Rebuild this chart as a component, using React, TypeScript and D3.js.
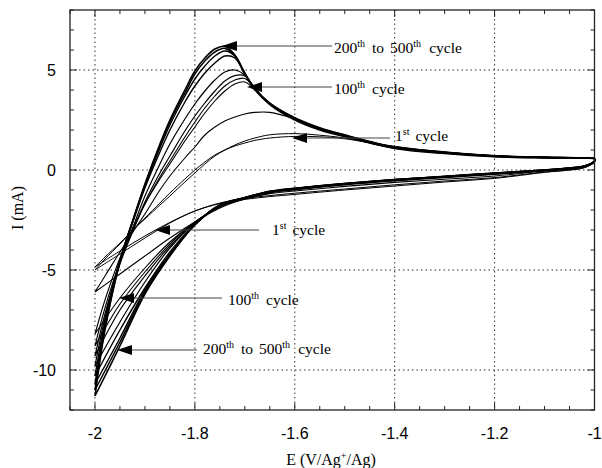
import React from "react";
import * as d3 from "d3";

// Potential grids (V vs Ag+/Ag)
const eUp = [-2, -1.98, -1.95, -1.92, -1.9, -1.87, -1.85, -1.82, -1.8, -1.78, -1.76, -1.74, -1.72, -1.7, -1.68, -1.65, -1.6, -1.55, -1.5, -1.4, -1.3, -1.2, -1.1, -1.03, -1.0];
const eDown = [-1.0, -1.02, -1.05, -1.1, -1.2, -1.3, -1.4, -1.5, -1.6, -1.65, -1.7, -1.75, -1.8, -1.85, -1.9, -1.95, -2.0];

// Current (mA) per cycle, anodic (up) and cathodic (down) sweeps
const c1Up = [-4.85, -4.35, -3.65, -2.9, -2.45, -1.75, -1.3, -0.6, -0.15, 0.3, 0.7, 1.0, 1.25, 1.45, 1.6, 1.76, 1.82, 1.74, 1.6, 1.18, 0.9, 0.72, 0.64, 0.6, 0.56];
const c1Down = [0.4, 0.12, 0.0, -0.12, -0.42, -0.6, -0.8, -1.0, -1.22, -1.33, -1.47, -1.68, -2.05, -2.62, -3.3, -4.05, -4.85];
const c2Up = [-5.0, -4.45, -3.7, -2.9, -2.4, -1.65, -1.15, -0.45, 0.0, 0.4, 0.75, 1.0, 1.2, 1.35, 1.48, 1.6, 1.68, 1.66, 1.56, 1.16, 0.89, 0.71, 0.63, 0.6, 0.56];
const c2Down = [0.4, 0.12, 0.0, -0.1, -0.38, -0.55, -0.74, -0.95, -1.16, -1.28, -1.42, -1.65, -2.05, -2.65, -3.4, -4.2, -5.0];
const c3Up = [-6.1, -5.3, -4.1, -2.95, -2.2, -1.0, -0.3, 0.6, 1.15, 1.75, 2.15, 2.45, 2.65, 2.8, 2.88, 2.88, 2.55, 2.05, 1.68, 1.1, 0.86, 0.69, 0.62, 0.6, 0.56];
const c3Down = [0.42, 0.15, 0.05, -0.05, -0.3, -0.46, -0.62, -0.82, -1.05, -1.18, -1.45, -1.9, -2.6, -3.4, -4.3, -5.2, -6.1];
const c4Up = [-8.2, -6.5, -4.4, -2.7, -1.7, -0.45, 0.3, 1.45, 2.15, 2.85, 3.45, 3.95, 4.3, 4.4, 4.0, 3.3, 2.55, 2.05, 1.68, 1.1, 0.85, 0.68, 0.62, 0.6, 0.56];
const c4Down = [0.45, 0.18, 0.07, -0.03, -0.22, -0.38, -0.55, -0.75, -1.0, -1.15, -1.45, -1.85, -2.6, -3.6, -4.9, -6.4, -8.2];
const c5Up = [-8.8, -6.9, -4.6, -2.8, -1.7, -0.35, 0.45, 1.65, 2.4, 3.1, 3.7, 4.2, 4.5, 4.58, 4.05, 3.3, 2.58, 2.08, 1.72, 1.13, 0.87, 0.7, 0.63, 0.6, 0.56];
const c5Down = [0.45, 0.18, 0.07, -0.03, -0.2, -0.36, -0.52, -0.72, -0.97, -1.12, -1.42, -1.82, -2.6, -3.7, -5.1, -6.7, -8.8];
const c6Up = [-9.3, -7.2, -4.7, -2.8, -1.6, -0.15, 0.7, 1.95, 2.7, 3.35, 3.95, 4.45, 4.72, 4.7, 4.1, 3.3, 2.56, 2.06, 1.69, 1.1, 0.85, 0.68, 0.62, 0.6, 0.56];
const c6Down = [0.45, 0.19, 0.08, -0.02, -0.19, -0.35, -0.51, -0.71, -0.96, -1.11, -1.41, -1.8, -2.65, -3.8, -5.3, -7.0, -9.3];
const c7Up = [-9.8, -7.4, -4.6, -2.6, -1.3, 0.3, 1.3, 2.55, 3.3, 3.95, 4.5, 4.9, 5.0, 4.75, 4.05, 3.32, 2.6, 2.1, 1.75, 1.14, 0.88, 0.7, 0.63, 0.6, 0.56];
const c7Down = [0.45, 0.2, 0.08, -0.02, -0.18, -0.33, -0.5, -0.7, -0.95, -1.1, -1.4, -1.8, -2.65, -3.9, -5.6, -7.6, -9.8];
const c8Up = [-10.3, -7.6, -4.5, -2.3, -0.9, 0.9, 2.0, 3.4, 4.2, 4.85, 5.35, 5.7, 5.6, 4.8, 4.08, 3.35, 2.62, 2.12, 1.76, 1.16, 0.9, 0.72, 0.65, 0.61, 0.57];
const c8Down = [0.45, 0.2, 0.09, -0.01, -0.17, -0.33, -0.49, -0.69, -0.93, -1.08, -1.39, -1.77, -2.7, -4.1, -5.9, -8.0, -10.3];
const c9Up = [-10.7, -7.8, -4.5, -2.2, -0.8, 1.1, 2.25, 3.7, 4.55, 5.2, 5.7, 5.95, 5.7, 4.8, 4.02, 3.27, 2.5, 2.0, 1.66, 1.07, 0.82, 0.66, 0.6, 0.58, 0.55];
const c9Down = [0.45, 0.2, 0.1, 0.0, -0.16, -0.32, -0.48, -0.68, -0.92, -1.07, -1.38, -1.76, -2.72, -4.2, -6.0, -8.4, -10.7];
const c10Up = [-11.0, -7.9, -4.6, -2.25, -0.75, 1.2, 2.4, 3.85, 4.8, 5.45, 5.9, 6.08, 5.72, 4.82, 4.06, 3.33, 2.58, 2.08, 1.73, 1.13, 0.87, 0.7, 0.64, 0.61, 0.57];
const c10Down = [0.45, 0.2, 0.1, 0.0, -0.16, -0.32, -0.48, -0.68, -0.92, -1.07, -1.38, -1.75, -2.73, -4.25, -6.1, -8.6, -11.0];
const c11Up = [-11.3, -8.0, -4.6, -2.2, -0.7, 1.3, 2.5, 4.0, 4.95, 5.6, 6.05, 6.18, 5.75, 4.85, 4.05, 3.3, 2.55, 2.05, 1.7, 1.1, 0.85, 0.68, 0.62, 0.6, 0.56];
const c11Down = [0.45, 0.2, 0.1, 0.0, -0.15, -0.32, -0.48, -0.68, -0.92, -1.07, -1.38, -1.75, -2.75, -4.3, -6.2, -8.8, -11.3];

const xTickLabels = ["-2", "-1.8", "-1.6", "-1.4", "-1.2", "-1"];
const xTickValues = [-2, -1.8, -1.6, -1.4, -1.2, -1];
const yTickLabels = ["5", "0", "-5", "-10"];
const yTickValues = [5, 0, -5, -10];

const cycles = [
  { up: c1Up, down: c1Down, w: 1 },
  { up: c2Up, down: c2Down, w: 1 },
  { up: c3Up, down: c3Down, w: 1.1 },
  { up: c4Up, down: c4Down, w: 1.1 },
  { up: c5Up, down: c5Down, w: 1.1 },
  { up: c6Up, down: c6Down, w: 1.2 },
  { up: c7Up, down: c7Down, w: 1.2 },
  { up: c8Up, down: c8Down, w: 1.4 },
  { up: c9Up, down: c9Down, w: 1.4 },
  { up: c10Up, down: c10Down, w: 1.5 },
  { up: c11Up, down: c11Down, w: 1.6 },
];

const W = 602;
const H = 468;
const L = 70, R = 594.5, T = 10, B = 410;

const x = d3.scaleLinear().domain([-2.05, -1.0]).range([L, R]);
const y = d3.scaleLinear().domain([-12, 8]).range([B, T]);

const line = d3
  .line<[number, number]>()
  .x((d) => x(d[0]))
  .y((d) => y(d[1]))
  .curve(d3.curveCatmullRom.alpha(0.5));

const serif = "'Liberation Serif', 'Times New Roman', serif";
const sans = "'Liberation Sans', Arial, sans-serif";

function Arrow({ tipX, tipY, endX }: { tipX: number; tipY: number; endX: number }) {
  const hl = 15, hw = 5;
  return (
    <g>
      <line x1={tipX + hl - 2} y1={tipY} x2={endX} y2={tipY} stroke="#444" strokeWidth={1.2} />
      <path d={`M${tipX},${tipY} L${tipX + hl},${tipY - hw} L${tipX + hl},${tipY + hw} Z`} fill="#000" />
    </g>
  );
}

function Sup({ t }: { t: string }) {
  return (
    <tspan dy={-6} fontSize={10}>
      {t}
    </tspan>
  );
}

function Label200({ px, py }: { px: number; py: number }) {
  return (
    <text x={px} y={py}>
      200<Sup t="th" />
      <tspan dy={6} dx={7}>to</tspan>
      <tspan dx={6}>500</tspan>
      <Sup t="th" />
      <tspan dy={6} dx={8}>cycle</tspan>
    </text>
  );
}

function Label100({ px, py }: { px: number; py: number }) {
  return (
    <text x={px} y={py}>
      100<Sup t="th" />
      <tspan dy={6} dx={7}>cycle</tspan>
    </text>
  );
}

function Label1({ px, py }: { px: number; py: number }) {
  return (
    <text x={px} y={py}>
      1<Sup t="st" />
      <tspan dy={6} dx={6}>cycle</tspan>
    </text>
  );
}

export default function App() {
  const xMinor = d3.range(0, 22).map((i) => -2.05 + i * 0.05);
  const yMinor = d3.range(-12, 9);
  const paths = cycles.map((c) => {
    const pts: [number, number][] = [
      ...eUp.map((e, i) => [e, c.up[i]] as [number, number]),
      ...eDown.map((e, i) => [e, c.down[i]] as [number, number]),
    ];
    return { d: line(pts) || "", w: c.w };
  });
  const isMajorX = (v: number) => xTickValues.some((t) => Math.abs(t - v) < 1e-6);
  return (
    <svg width={W} height={H} style={{ position: "absolute", left: 0, top: 0, background: "#fff" }}>
      <rect x={0} y={0} width={W} height={H} fill="#fff" />
      {/* grid */}
      {xTickValues.slice(0, 5).map((v) => (
        <line key={"gx" + v} x1={x(v)} x2={x(v)} y1={T} y2={B} stroke="#333" strokeWidth={1} strokeDasharray="1.5,3" />
      ))}
      {yTickValues.map((v) => (
        <line key={"gy" + v} x1={L} x2={R} y1={y(v)} y2={y(v)} stroke="#333" strokeWidth={1} strokeDasharray="1.5,3" />
      ))}
      {/* ticks */}
      {xMinor.map((v, i) => {
        const len = isMajorX(v) ? 7 : 4;
        return (
          <g key={"xt" + i}>
            <line x1={x(v)} x2={x(v)} y1={B} y2={B - len} stroke="#222" strokeWidth={1} />
            <line x1={x(v)} x2={x(v)} y1={T} y2={T + len} stroke="#222" strokeWidth={1} />
          </g>
        );
      })}
      {yMinor.map((v) => {
        const len = v % 5 === 0 ? 7 : 4;
        return (
          <g key={"yt" + v}>
            <line x1={L} x2={L + len} y1={y(v)} y2={y(v)} stroke="#222" strokeWidth={1} />
            <line x1={R} x2={R - len} y1={y(v)} y2={y(v)} stroke="#222" strokeWidth={1} />
          </g>
        );
      })}
      {/* curves */}
      <g fill="none" stroke="#000" strokeLinejoin="round">
        {paths.map((p, i) => (
          <path key={i} d={p.d} strokeWidth={p.w} />
        ))}
      </g>
      {/* frame */}
      <rect x={L} y={T} width={R - L} height={B - T} fill="none" stroke="#222" strokeWidth={1.3} />
      {/* tick labels */}
      {xTickValues.map((v, i) => (
        <text key={"xl" + i} x={x(v)} y={439} textAnchor="middle" fontFamily={sans} fontSize={16} fill="#000">
          {xTickLabels[i]}
        </text>
      ))}
      {yTickValues.map((v, i) => (
        <text key={"yl" + i} x={56} y={y(v)} dy="0.35em" textAnchor="end" fontFamily={sans} fontSize={16} fill="#000">
          {yTickLabels[i]}
        </text>
      ))}
      {/* axis titles */}
      <text x={331} y={465} textAnchor="middle" fontFamily={serif} fontSize={16} fill="#000">
        E (V/Ag<tspan dy={-6} fontSize={10}>+</tspan>
        <tspan dy={6}>/Ag)</tspan>
      </text>
      <text transform="translate(23,208) rotate(-90)" textAnchor="middle" fontFamily={serif} fontSize={16} fill="#000">
        I (mA)
      </text>
      {/* annotations */}
      <Arrow tipX={222} tipY={46} endX={332} />
      <Arrow tipX={247} tipY={87} endX={332} />
      <Arrow tipX={292} tipY={138} endX={390} />
      <Arrow tipX={155} tipY={230} endX={259} />
      <Arrow tipX={119} tipY={298} endX={222} />
      <Arrow tipX={117} tipY={350} endX={197} />
      <g fontFamily={serif} fontSize={15.5} fill="#000">
        <Label200 px={334} py={53} />
        <Label100 px={334} py={94} />
        <Label1 px={395} py={141} />
        <Label1 px={272} py={235} />
        <Label100 px={228} py={305} />
        <Label200 px={203} py={354} />
      </g>
    </svg>
  );
}
